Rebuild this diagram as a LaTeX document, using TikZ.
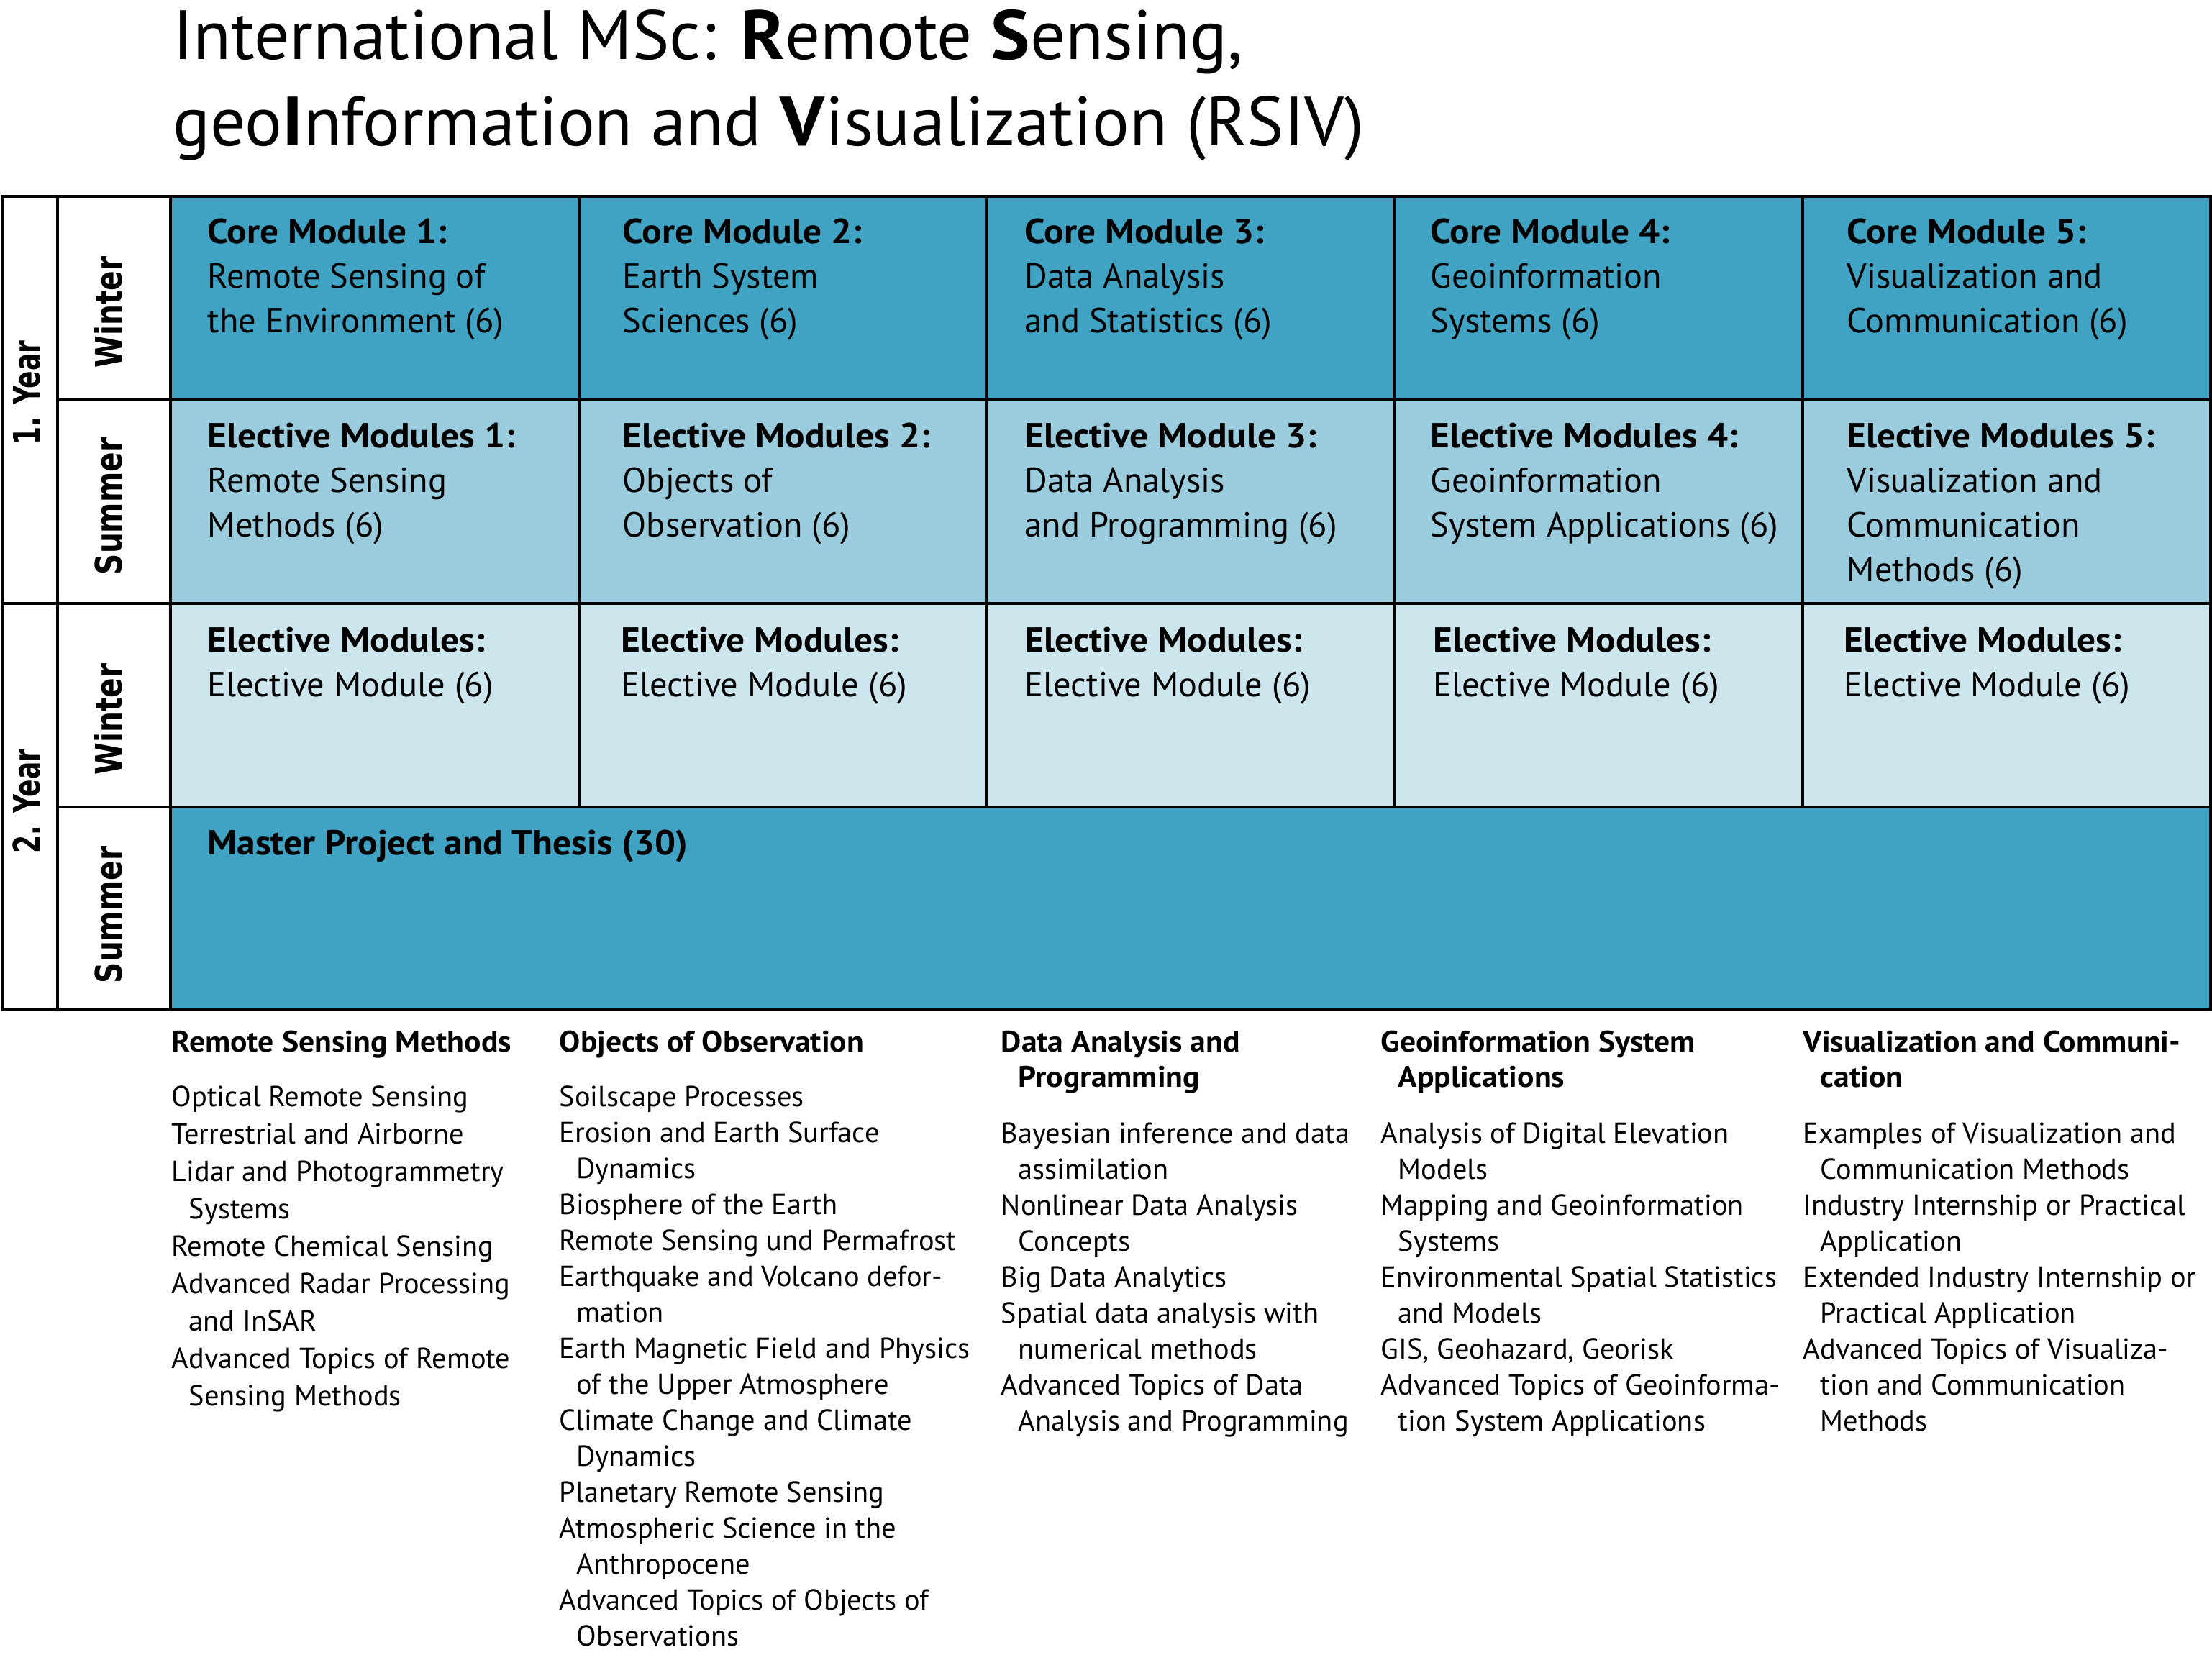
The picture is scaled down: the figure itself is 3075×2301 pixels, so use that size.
\documentclass[tikz,border=0pt]{standalone}
\usepackage{fontspec}
\usepackage{graphicx}
\setmainfont{PT Sans}[BoldFeatures={FakeStretch=1.06}]
\newfontfamily\labfont{DejaVu Sans}
\definecolor{dk}{RGB}{65,163,195}
\definecolor{md}{RGB}{154,204,221}
\definecolor{lt}{RGB}{205,229,236}
\newcommand\lstitem[1]{\par\hangindent=6pt\hangafter=1 #1}
\begin{document}
\begin{tikzpicture}[x=0.25pt,y=-0.25pt,
  grid/.style={line width=1.15pt,draw=black},
  celltxt/.style={anchor=base west,inner sep=0pt,font=\fontsize{12.1}{15.5}\selectfont},
  rot/.style={rotate=90,inner sep=0pt,anchor=center,font=\labfont\bfseries\fontsize{12.7}{14}\selectfont},
  lsttxt/.style={anchor=base west,inner sep=0pt,font=\fontsize{10.1}{12.5}\selectfont},
  lsthead/.style={anchor=base west,inner sep=0pt,font=\fontsize{10.3}{12.4}\selectfont},
  titletxt/.style={anchor=base west,inner sep=0pt,font=\fontsize{24.2}{30}\selectfont}]
\useasboundingbox (0,0) rectangle (3075,2301);
% title
\node[titletxt] (title) at (240,83) {\parbox[t]{700pt}{International MSc: \textbf{R}emote \textbf{S}ensing,\newline geo\textbf{I}nformation and \textbf{V}isualization (RSIV)}};
% fills
\fill[dk] (237,273) rectangle (3073,556);
\fill[md] (237,556) rectangle (3073,839);
\fill[lt] (237,839) rectangle (3073,1122);
\fill[dk] (237,1122) rectangle (3073,1404);
% grid
\draw[grid] (3,273) rectangle (3073,1404);
\draw[grid] (80,273) -- (80,1404);
\draw[grid] (237,273) -- (237,1404);
\draw[grid] (80,556) -- (3073,556);
\draw[grid] (3,839) -- (3073,839);
\draw[grid] (80,1122) -- (3073,1122);
\foreach \xx in {805,1371,1938,2506} \draw[grid] (\xx,273) -- (\xx,1122);
% rotated labels
\node[rot] (y1) at (37,546) {\scalebox{0.71}[1]{1. Year}};
\node[rot] (w1) at (151,434) {\scalebox{0.8}[1]{Winter}};
\node[rot] (s1) at (151,704) {\scalebox{0.8}[1]{Summer}};
\node[rot] (y2) at (37,1114) {\scalebox{0.71}[1]{2. Year}};
\node[rot] (w2) at (151,1000) {\scalebox{0.8}[1]{Winter}};
\node[rot] (s2) at (151,1272) {\scalebox{0.8}[1]{Summer}};
% row 1
\node[celltxt] (c1) at (288,339) {\parbox[t]{300pt}{\textbf{Core Module 1:}\newline Remote Sensing of\newline the Environment (6)}};
\node[celltxt] (c2) at (865,339) {\parbox[t]{300pt}{\textbf{Core Module 2:}\newline Earth System\newline Sciences (6)}};
\node[celltxt] (c3) at (1424,339) {\parbox[t]{300pt}{\textbf{Core Module 3:}\newline Data Analysis\newline and Statistics (6)}};
\node[celltxt] (c4) at (1988,339) {\parbox[t]{300pt}{\textbf{Core Module 4:}\newline Geoinformation\newline Systems (6)}};
\node[celltxt] (c5) at (2567,339) {\parbox[t]{300pt}{\textbf{Core Module 5:}\newline Visualization and\newline Communication (6)}};
% row 2
\node[celltxt] (e1) at (288,622) {\parbox[t]{300pt}{\textbf{Elective Modules 1:}\newline Remote Sensing\newline Methods (6)}};
\node[celltxt] (e2) at (865,622) {\parbox[t]{300pt}{\textbf{Elective Modules 2:}\newline Objects of\newline Observation (6)}};
\node[celltxt] (e3) at (1424,622) {\parbox[t]{300pt}{\textbf{Elective Module 3:}\newline Data Analysis\newline and Programming (6)}};
\node[celltxt] (e4) at (1988,622) {\parbox[t]{300pt}{\textbf{Elective Modules 4:}\newline Geoinformation\newline System Applications (6)}};
\node[celltxt] (e5) at (2567,622) {\parbox[t]{300pt}{\textbf{Elective Modules 5:}\newline Visualization and\newline Communication\newline Methods (6)}};
% row 3
\node[celltxt] (f1) at (288,906) {\parbox[t]{300pt}{\textbf{Elective Modules:}\newline Elective Module (6)}};
\node[celltxt] (f2) at (863,906) {\parbox[t]{300pt}{\textbf{Elective Modules:}\newline Elective Module (6)}};
\node[celltxt] (f3) at (1424,906) {\parbox[t]{300pt}{\textbf{Elective Modules:}\newline Elective Module (6)}};
\node[celltxt] (f4) at (1992,906) {\parbox[t]{300pt}{\textbf{Elective Modules:}\newline Elective Module (6)}};
\node[celltxt] (f5) at (2563,906) {\parbox[t]{300pt}{\textbf{Elective Modules:}\newline Elective Module (6)}};
% row 4
\node[celltxt] (m) at (288,1188) {\textbf{Master Project and Thesis (30)}};
% lists: headers
\node[lsthead] (h1) at (238,1462) {\textbf{Remote Sensing Methods}};
\node[lsthead] (h2) at (777,1462) {\textbf{Objects of Observation}};
\node[lsthead] (h3) at (1391,1462) {\parbox[t]{300pt}{\lstitem{\textbf{Data Analysis and\newline Programming}}}};
\node[lsthead] (h4) at (1919,1462) {\parbox[t]{300pt}{\lstitem{\textbf{Geoinformation System\newline Applications}}}};
\node[lsthead] (h5) at (2506,1462) {\parbox[t]{300pt}{\lstitem{\textbf{Visualization and Communi-\newline cation}}}};
% lists: items
\node[lsttxt] (l1) at (238,1538) {\parbox[t]{300pt}{\fontsize{10.1}{13}\selectfont
\lstitem{Optical Remote Sensing}
\lstitem{Terrestrial and Airborne}
\lstitem{Lidar and Photogrammetry\newline Systems}
\lstitem{Remote Chemical Sensing}
\lstitem{Advanced Radar Processing\newline and InSAR}
\lstitem{Advanced Topics of Remote\newline Sensing Methods}}};
\node[lsttxt] (l2) at (777,1538) {\parbox[t]{300pt}{
\lstitem{Soilscape Processes}
\lstitem{Erosion and Earth Surface\newline Dynamics}
\lstitem{Biosphere of the Earth}
\lstitem{Remote Sensing und Permafrost}
\lstitem{Earthquake and Volcano defor-\newline mation}
\lstitem{Earth Magnetic Field and Physics\newline of the Upper Atmosphere}
\lstitem{Climate Change and Climate\newline Dynamics}
\lstitem{Planetary Remote Sensing}
\lstitem{Atmospheric Science in the\newline Anthropocene}
\lstitem{Advanced Topics of Objects of\newline Observations}}};
\node[lsttxt] (l3) at (1391,1589) {\parbox[t]{300pt}{
\lstitem{Bayesian inference and data\newline assimilation}
\lstitem{Nonlinear Data Analysis\newline Concepts}
\lstitem{Big Data Analytics}
\lstitem{Spatial data analysis with\newline numerical methods}
\lstitem{Advanced Topics of Data\newline Analysis and Programming}}};
\node[lsttxt] (l4) at (1919,1589) {\parbox[t]{300pt}{
\lstitem{Analysis of Digital Elevation\newline Models}
\lstitem{Mapping and Geoinformation\newline Systems}
\lstitem{Environmental Spatial Statistics\newline and Models}
\lstitem{GIS, Geohazard, Georisk}
\lstitem{Advanced Topics of Geoinforma-\newline tion System Applications}}};
\node[lsttxt] (l5) at (2506,1589) {\parbox[t]{300pt}{
\lstitem{Examples of Visualization and\newline Communication Methods}
\lstitem{Industry Internship or Practical\newline Application}
\lstitem{Extended Industry Internship or\newline Practical Application}
\lstitem{Advanced Topics of Visualiza-\newline tion and Communication\newline Methods}}};
\end{tikzpicture}
\end{document}
